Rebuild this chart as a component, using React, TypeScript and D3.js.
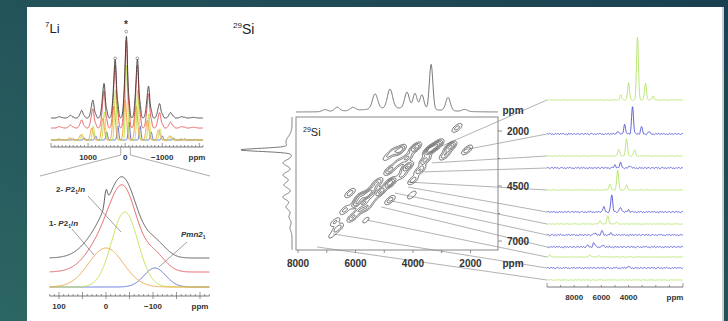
import React from 'react';
import * as d3 from 'd3';

const W = 728;
const H = 321;

// ---------- 7Li : spinning sideband manifold ----------
const liOrders = [6, 5, 4, 3, 2, 1, 0, -1, -2, -3, -4, -5, -6];
const liSpinning = 300; // ppm between sidebands
const liSiteShift = [0, -40, -104]; // 1-P21/n, 2-P21/n, Pmn21
const liSiteWidth = [37, 28, 23];
const liSiteHeight = [39, 75, 19];
const liSiteColors = ['#f2a33f', '#c3e34c', '#5a6fd8'];
const liBandsOrange = [1, 2, 5, 12, 22, 34, 40, 34, 20, 10, 4, 1, 0.5];
const liBandsGreen = [1, 2, 6, 14, 28, 50, 75, 50, 26, 11, 4, 1, 0.5];
const liBandsBlue = [0.5, 1, 2, 4, 8, 14, 18, 14, 8, 4, 2, 1, 0.5];
const liBands = [liBandsOrange, liBandsGreen, liBandsBlue];
const liFitScale = 0.88;
const liExpScale = 0.82;
const liSpike = { ppm: 0, height: 14, width: 3 };

// ---------- 29Si : 2D map ----------
const siPeakX = [2470, 2120, 2710, 3410, 3165, 3930, 4450, 4900, 4210, 4700, 4210, 4800, 3760, 4000, 4800,
  5250, 5150, 5600, 5840, 5950, 4800, 6090, 5600, 6610, 6820, 5640, 4040, 6190, 5430,
  3580, 2890, 4520, 5430, 6370, 5840, 6710, 4380];
const siPeakY = [1860, 2860, 2730, 2860, 2640, 2770, 2860, 3180, 3230, 2950, 3640, 3770, 3770, 4230, 4360,
  4360, 4770, 4910, 5000, 5270, 5140, 5910, 5450, 6410, 6730, 6050, 4910, 4820, 4680,
  3320, 3090, 3450, 5140, 5590, 5590, 6140, 4000];
const siPeakI = [0.8, 1.0, 2.2, 3.5, 2.5, 2.0, 1.6, 0.5, 1.3, 0.9, 2.0, 1.4, 1.2, 0.9, 2.5,
  1.2, 2.0, 2.2, 1.5, 1.8, 0.9, 1.2, 1.0, 1.0, 0.4, 0.4, 0.6, 0.9, 1.3,
  1.4, 1.1, 0.9, 1.0, 0.8, 1.1, 0.7, 0.8];
const siContourLevels = [0.25, 0.6, 1.1, 1.8, 2.6];

// projections
const siTopPpm = [7060, 6640, 6090, 5320, 4800, 4210, 3930, 3690, 3370, 2780, 2200, 4500];
const siTopH = [2, 4, 3, 15, 19, 16, 15, 14, 45, 13, 2, 4];
const siTopW = [90, 90, 90, 90, 90, 80, 70, 70, 60, 80, 90, 1200];
const siLeftPpm = [2500, 2860, 3450, 4000, 4450, 5000, 5450, 5900, 6400];
const siLeftH = [6, 49, 9, 9, 8, 9, 6, 3, 2];
const siLeftW = [250, 70, 130, 130, 130, 130, 130, 130, 150];

// slices (row spectra)
const siSliceColor = ['g', 'b', 'g', 'b', 'g', 'b', 'g', 'b', 'b', 'g', 'b', 'g'];
const siSlicePeaks: number[][][] = [
  [[4580, 5], [4000, 17], [3345, 63], [2760, 17], [2180, 4]],
  [[4800, 3], [4290, 9], [3710, 27], [3050, 7], [2500, 2]],
  [[4730, 7], [4150, 17], [3560, 6]],
  [[5000, 3], [4580, 5], [3900, 2]],
  [[5380, 6], [4800, 20], [4150, 5]],
  [[5820, 5], [5240, 17], [4600, 5], [4000, 2]],
  [[6100, 3], [5530, 8], [4900, 2]],
  [[6500, 2], [5960, 4], [5300, 1.5]],
  [[7000, 1.5], [6550, 4], [5900, 1.5]],
  [[9800, 2], [6840, 2], [6200, 1.5]],
  [[4000, 1.5]],
  [],
];
const siSliceFromX = [2990, 2230, 3340, 3690, 4170, 4170, 4630, 4870, 5110, 5600, 6780, 7340];
const siSliceFromY = [2680, 2860, 3450, 3860, 4320, 4550, 4820, 5140, 5450, 6050, 6680, 7270];
const ripple = [0.4, -0.6, 0.9, -0.3, 0.5, -0.9, 0.2, 0.7, -0.5, 0.3, -0.8, 0.6, -0.2, 0.9, -0.4, 0.1,
  -0.7, 0.5, -0.3, 0.8, -0.6, 0.4, -0.1, 0.6, -0.5, 0.2, -0.9, 0.7, -0.2, 0.3, -0.6, 0.8, -0.4, 0.1, 0.5, -0.7, 0.3];

// layout
const sliceBaseY = [100, 134, 156, 168, 190, 212, 224, 235, 247, 257, 268, 280];
const font = '"Liberation Sans", Arial, sans-serif';
const GREEN = '#b3e36a';
const BLUE = '#4f52d6';

const gauss = (x: number, c: number, s: number) => Math.exp(-((x - c) ** 2) / (2 * s * s));

export default function App() {
  // ---- 7Li top ----
  const liTopX = d3.scaleLinear().domain([2000, -2100]).range([51, 203]);
  const topPpm = d3.range(2000, -2100, -4);
  const compTop = (s: number, p: number) =>
    liOrders.reduce((acc, k, i) => acc + liBands[s][i] * gauss(p, k * liSpinning + liSiteShift[s], liSiteWidth[s]), 0);
  const sumTop = (p: number) => compTop(0, p) + compTop(1, p) + compTop(2, p);
  const topLine = (base: number, f: (p: number) => number) =>
    d3.line<number>().x((p) => liTopX(p)).y((p) => base - f(p))(topPpm) || '';

  // ---- 7Li bottom ----
  const liBotX = d3.scaleLinear().domain([120, -220]).range([49.6, 209.4]);
  const botPpm = d3.range(120, -220.5, -0.5);
  const compBot = (s: number, p: number) => liSiteHeight[s] * gauss(p, liSiteShift[s], liSiteWidth[s]);
  const sumBot = (p: number) => compBot(0, p) + compBot(1, p) + compBot(2, p);
  const botLine = (base: number, f: (p: number) => number) =>
    d3.line<number>().x((p) => liBotX(p)).y((p) => base - f(p))(botPpm) || '';

  // ---- 29Si 2D ----
  const bx0 = 296, by0 = 117, bw = 202, bh = 133;
  const sx = d3.scaleLinear().domain([8070, 1043]).range([bx0, bx0 + bw]);
  const sy = d3.scaleLinear().domain([1364, 7409]).range([by0, by0 + bh]);
  const ua = [0.77, -0.64];
  const grid = new Array(bw * bh).fill(0);
  const pk = siPeakX.map((v, i) => [sx(v) - bx0, sy(siPeakY[i]) - by0, siPeakI[i]]);
  for (let j = 0; j < bh; j++) {
    for (let i = 0; i < bw; i++) {
      let v = 0;
      for (const [px, py, I] of pk) {
        const dx = i + 0.5 - px, dy = j + 0.5 - py;
        const a = dx * ua[0] + dy * ua[1];
        const b = -dx * ua[1] + dy * ua[0];
        if (Math.abs(a) > 20 || Math.abs(b) > 10) continue;
        v += I * Math.exp(-(a * a) / (2 * 4 * 4) - (b * b) / (2 * 1.8 * 1.8));
      }
      grid[j * bw + i] = v;
    }
  }
  const contours = d3.contours().size([bw, bh]).thresholds(siContourLevels)(grid);
  const geo = d3.geoPath();

  const topProjPpm = d3.range(8070, 1040, -10);
  const topProj = d3.line<number>()
    .x((p) => sx(p))
    .y((p) => 112 - siTopPpm.reduce((a, c, i) => a + siTopH[i] * gauss(p, c, siTopW[i]), 0))(topProjPpm) || '';
  const leftProjPpm = d3.range(1364, 7409, 10);
  const leftProj = d3.line<number>()
    .x((p) => 292 - siLeftPpm.reduce((a, c, i) => a + siLeftH[i] * gauss(p, c, siLeftW[i]), 0))
    .y((p) => sy(p))(leftProjPpm) || '';

  // ---- slices ----
  const rx = d3.scaleLinear().domain([10000, 0]).range([547, 683]);
  const slicePpm = d3.range(10000, -1, -20);
  const noiseAt = (p: number, shift: number) => {
    const t = (10000 - p) / 100;
    const i0 = Math.floor(t);
    const f = t - i0;
    const a = ripple[(i0 + shift) % ripple.length];
    const b = ripple[(i0 + 1 + shift) % ripple.length];
    return a * (1 - f) + b * f;
  };
  const slicePaths = siSlicePeaks.map((peaks, si) => {
    const amp = siSliceColor[si] === 'b' ? 1.1 : 0.6;
    return d3.line<number>()
      .x((p) => rx(p))
      .y((p) => sliceBaseY[si] - peaks.reduce((a, [c, h]) => a + h * gauss(p, c, 70), 0) - amp * noiseAt(p, si * 11))(slicePpm) || '';
  });

  const txt = (x: number, y: number, s: string, size = 8, anchor = 'middle', weight = 'bold') => (
    <text x={x} y={y} fontSize={size} fontFamily={font} fontWeight={weight} textAnchor={anchor} fill="#333">{s}</text>
  );

  return (
    <svg width={W} height={H} style={{ position: 'absolute', left: 0, top: 0 }}>
      <defs>
        <linearGradient id="bg" x1="1" y1="0" x2="0" y2="1">
          <stop offset="0" stopColor="#1a4050" />
          <stop offset="1" stopColor="#2c6663" />
        </linearGradient>
      </defs>
      <rect width={W} height={H} fill="url(#bg)" />
      <rect x={27} y={7} width={695} height={H} fill="#fff" />
      <rect x={722} y={7} width={2} height={H} fill="#c9d0d2" />

      {/* ===== 7Li top ===== */}
      <text x={45} y={33} fontFamily={font} fill="#222">
        <tspan fontSize={8} dy={-6}>7</tspan>
        <tspan fontSize={13} dy={6}>Li</tspan>
      </text>
      {[2, 1, 0].map((s) => (
        <path key={s} d={topLine(140, (p) => compTop(s, p))} fill="none" stroke={liSiteColors[s]} strokeWidth={1} />
      ))}
      <path d={topLine(128, (p) => liFitScale * sumTop(p))} fill="none" stroke="#e4585a" strokeWidth={1} />
      <path d={topLine(118, (p) => liExpScale * sumTop(p))} fill="none" stroke="#3a3a3a" strokeWidth={0.9} />
      {[1, 0, -1].map((k) => {
        const p = k * liSpinning - 30;
        return <circle key={k} cx={liTopX(p)} cy={118 - liExpScale * sumTop(p) - (k === 0 ? 5 : 1)} r={1.4} fill="none" stroke="#777" strokeWidth={0.7} />;
      })}
      {txt(126, 28, '*', 10)}
      {/* top axis */}
      <line x1={liTopX(2000)} x2={liTopX(-2100)} y1={147} y2={147} stroke="#555" strokeWidth={0.8} />
      {d3.range(2000, -2101, -100).map((p) => (
        <line key={p} x1={liTopX(p)} x2={liTopX(p)} y1={147} y2={p % 1000 === 0 ? 143 : 145} stroke="#555" strokeWidth={0.6} />
      ))}
      {txt(liTopX(1000), 160, '1000')}
      {txt(liTopX(0), 160, '0')}
      {txt(liTopX(-1000), 160, '\u22121000')}
      {txt(197, 160, 'ppm')}
      {/* zoom bracket */}
      <path d={`M${liTopX(liBotX.domain()[0])},147 V155 L40,176`} fill="none" stroke="#888" strokeWidth={0.7} />
      <path d={`M${liTopX(liBotX.domain()[1]) - 3},147 V155 L210,176`} fill="none" stroke="#888" strokeWidth={0.7} />

      {/* ===== 7Li bottom ===== */}
      {[2, 1, 0].map((s) => (
        <path key={s} d={botLine(287, (p) => compBot(s, p))} fill="none" stroke={liSiteColors[s]} strokeWidth={1} />
      ))}
      <path d={botLine(272, (p) => liFitScale * sumBot(p))} fill="none" stroke="#e4585a" strokeWidth={1} />
      <path d={botLine(258, (p) => liExpScale * sumBot(p) + liSpike.height * gauss(p, liSpike.ppm, liSpike.width))} fill="none" stroke="#555" strokeWidth={1} />
      <line x1={88} y1={196} x2={121} y2={232} stroke="#777" strokeWidth={0.7} />
      <line x1={72} y1={229} x2={94} y2={255} stroke="#777" strokeWidth={0.7} />
      <line x1={187} y1={242} x2={159} y2={267} stroke="#777" strokeWidth={0.7} />
      <text x={56} y={192} fontSize={8} fontFamily={font} fontWeight="bold" fill="#333">
        2- <tspan fontStyle="italic">P</tspan>2<tspan fontSize={5} dy={2}>1</tspan><tspan dy={-2}>/</tspan><tspan fontStyle="italic">n</tspan>
      </text>
      <text x={49} y={226} fontSize={8} fontFamily={font} fontWeight="bold" fill="#333">
        1- <tspan fontStyle="italic">P</tspan>2<tspan fontSize={5} dy={2}>1</tspan><tspan dy={-2}>/</tspan><tspan fontStyle="italic">n</tspan>
      </text>
      <text x={181} y={237} fontSize={8} fontFamily={font} fontWeight="bold" fontStyle="italic" fill="#333">
        Pmn2<tspan fontSize={5} dy={2} fontStyle="normal">1</tspan>
      </text>
      <line x1={liBotX(120)} x2={liBotX(-220)} y1={296} y2={296} stroke="#555" strokeWidth={0.8} />
      {d3.range(120, -221, -10).map((p) => (
        <line key={p} x1={liBotX(p)} x2={liBotX(p)} y1={p % 50 === 0 ? 299 : 296} y2={p % 50 === 0 ? 292 : 294} stroke="#555" strokeWidth={0.6} />
      ))}
      {txt(liBotX(100), 309, '100')}
      {txt(liBotX(0), 309, '0')}
      {txt(liBotX(-100), 309, '\u2212100')}
      {txt(200, 309, 'ppm')}

      {/* ===== 29Si ===== */}
      <text x={233} y={34} fontFamily={font} fill="#222">
        <tspan fontSize={8} dy={-6}>29</tspan>
        <tspan fontSize={14} dy={6}>Si</tspan>
      </text>
      {/* slice lines */}
      {siSliceFromX.map((v, i) => (
        <line key={i} x1={sx(v)} y1={sy(siSliceFromY[i])} x2={547} y2={sliceBaseY[i]} stroke="#a0a0a0" strokeWidth={0.8} />
      ))}
      <path d={topProj} fill="none" stroke="#666" strokeWidth={0.9} />
      <path d={leftProj} fill="none" stroke="#666" strokeWidth={0.9} />
      <rect x={bx0} y={by0} width={bw} height={bh} fill="none" stroke="#888" strokeWidth={1} />
      <g transform={`translate(${bx0},${by0})`}>
        {contours.map((c, i) => (
          <path key={i} d={geo(c) || ''} fill="none" stroke="#333" strokeWidth={0.7} />
        ))}
      </g>
      <text x={303} y={136} fontFamily={font} fill="#222">
        <tspan fontSize={7} dy={-4}>29</tspan>
        <tspan fontSize={11} dy={4}>Si</tspan>
      </text>
      {d3.range(8000, 1999, -1000).map((v) => (
        <line key={v} x1={sx(v)} x2={sx(v)} y1={by0 + bh} y2={by0 + bh + 3} stroke="#666" strokeWidth={0.7} />
      ))}
      {[8000, 6000, 4000, 2000].map((v) => <g key={v}>{txt(sx(v), 267, String(v), 10)}</g>)}
      {txt(513, 267, 'ppm', 10)}
      {d3.range(2000, 7001, 1250).map((v) => (
        <line key={v} x1={bx0 + bw} x2={bx0 + bw + ((v - 2000) % 2500 === 0 ? 4 : 2)} y1={sy(v)} y2={sy(v)} stroke="#666" strokeWidth={0.7} />
      ))}
      {[2000, 4500, 7000].map((v) => <g key={v}>{txt(518, sy(v) + 4, String(v), 10)}</g>)}
      {txt(513, 114, 'ppm', 10)}

      {/* slices */}
      {slicePaths.map((d, i) => (
        <path key={i} d={d} fill="none" stroke={siSliceColor[i] === 'b' ? BLUE : GREEN} strokeWidth={0.9} />
      ))}
      <line x1={rx(10000)} x2={rx(0)} y1={287} y2={287} stroke="#555" strokeWidth={0.8} />
      {d3.range(10000, -1, -1000).map((v) => (
        <line key={v} x1={rx(v)} x2={rx(v)} y1={287} y2={v === 10000 || v === 0 ? 283 : 285} stroke="#555" strokeWidth={0.6} />
      ))}
      {[8000, 6000, 4000].map((v) => <g key={v}>{txt(rx(v), 300, String(v), 8)}</g>)}
      {txt(675, 300, 'ppm', 8)}
    </svg>
  );
}
